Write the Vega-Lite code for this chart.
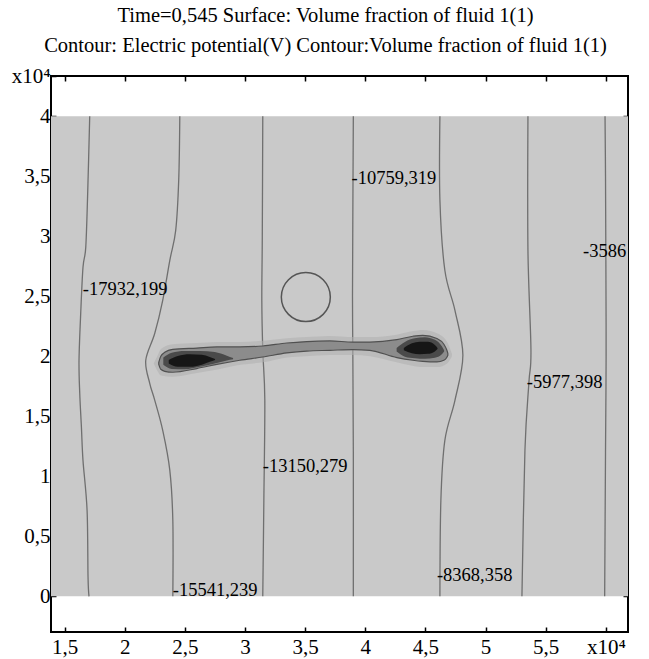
{
  "$schema": "https://vega.github.io/schema/vega-lite/v6.json",
  "width": 577,
  "height": 556,
  "autosize": {"type": "none"},
  "padding": {"left": 51, "top": 76, "right": 21, "bottom": 27},
  "background": "white",
  "title": {
    "text": ["Time=0,545 Surface: Volume fraction of fluid 1(1)", "Contour: Electric potential(V) Contour:Volume fraction of fluid 1(1)"],
    "font": "Liberation Serif", "fontSize": 20.5, "fontWeight": "normal", "color": "black",
    "lineHeight": 30, "anchor": "middle", "frame": "group", "dx": -14, "offset": 9
  },
  "config": {
    "view": {"stroke": "black", "strokeWidth": 2},
    "axis": {
      "domain": false, "grid": false, "tickColor": "black", "tickWidth": 1.5, "tickSize": -5,
      "labelFont": "Liberation Serif", "labelFontSize": 21, "labelColor": "black", "labelOverlap": false,
      "labelFlush": false, "title": null
    }
  },
  "datasets": {
    "bg": [{"x": 1.386, "x2": 6.184, "y": 0, "y2": 4}],
    "contours": [
      {"c": "A", "x": 1.708, "y": 4.0}, {"c": "A", "x": 1.691, "y": 3.358}, {"c": "A", "x": 1.675, "y": 2.908}, {"c": "A", "x": 1.652, "y": 2.742}, {"c": "A", "x": 1.633, "y": 2.358}, {"c": "A", "x": 1.619, "y": 1.967}, {"c": "A", "x": 1.625, "y": 1.692}, {"c": "A", "x": 1.639, "y": 1.408}, {"c": "A", "x": 1.652, "y": 1.133}, {"c": "A", "x": 1.686, "y": 0.717}, {"c": "A", "x": 1.694, "y": 0.158}, {"c": "A", "x": 1.702, "y": 0},
      {"c": "B", "x": 2.457, "y": 4.0}, {"c": "B", "x": 2.448, "y": 3.467}, {"c": "B", "x": 2.423, "y": 3.05}, {"c": "B", "x": 2.374, "y": 2.8}, {"c": "B", "x": 2.315, "y": 2.467}, {"c": "B", "x": 2.249, "y": 2.192}, {"c": "B", "x": 2.174, "y": 1.967}, {"c": "B", "x": 2.207, "y": 1.775}, {"c": "B", "x": 2.249, "y": 1.633}, {"c": "B", "x": 2.315, "y": 1.383}, {"c": "B", "x": 2.374, "y": 1.05}, {"c": "B", "x": 2.399, "y": 0.633}, {"c": "B", "x": 2.399, "y": 0},
      {"c": "C", "x": 3.147, "y": 4.0}, {"c": "C", "x": 3.143, "y": 3.0}, {"c": "C", "x": 3.139, "y": 2.467}, {"c": "C", "x": 3.147, "y": 2.05}, {"c": "C", "x": 3.164, "y": 1.633}, {"c": "C", "x": 3.156, "y": 0.8}, {"c": "C", "x": 3.147, "y": 0},
      {"c": "D", "x": 3.9, "y": 4.0}, {"c": "D", "x": 3.896, "y": 3.2}, {"c": "D", "x": 3.893, "y": 2.5}, {"c": "D", "x": 3.896, "y": 2.0}, {"c": "D", "x": 3.9, "y": 1.2}, {"c": "D", "x": 3.9, "y": 0},
      {"c": "E", "x": 4.62, "y": 4.0}, {"c": "E", "x": 4.62, "y": 3.3}, {"c": "E", "x": 4.661, "y": 2.717}, {"c": "E", "x": 4.745, "y": 2.383}, {"c": "E", "x": 4.811, "y": 2.008}, {"c": "E", "x": 4.745, "y": 1.633}, {"c": "E", "x": 4.661, "y": 1.3}, {"c": "E", "x": 4.628, "y": 0.8}, {"c": "E", "x": 4.62, "y": 0},
      {"c": "F", "x": 5.352, "y": 4.0}, {"c": "F", "x": 5.352, "y": 2.883}, {"c": "F", "x": 5.377, "y": 2.05}, {"c": "F", "x": 5.36, "y": 1.783}, {"c": "F", "x": 5.327, "y": 1.217}, {"c": "F", "x": 5.302, "y": 0},
      {"c": "G", "x": 5.993, "y": 4.0}, {"c": "G", "x": 5.997, "y": 3.5}, {"c": "G", "x": 6.0, "y": 2.8}, {"c": "G", "x": 6.002, "y": 2.0}, {"c": "G", "x": 5.997, "y": 1.2}, {"c": "G", "x": 5.99, "y": 0}
    ],
    "labels": [
      {"x": 1.65, "y": 2.558, "t": "-17932,199"},
      {"x": 2.399, "y": 0.05, "t": "-15541,239"},
      {"x": 3.147, "y": 1.083, "t": "-13150,279"},
      {"x": 3.885, "y": 3.483, "t": "-10759,319"},
      {"x": 4.595, "y": 0.175, "t": "-8368,358"},
      {"x": 5.343, "y": 1.783, "t": "-5977,398"},
      {"x": 5.81, "y": 2.88, "t": "-3586"}
    ],
    "circle": [{"x": 3.505, "y": 2.494}],
    "halo": [
      {"x": 2.24, "y": 1.94, "y2": 1.94}, {"x": 2.27, "y": 2.0, "y2": 1.88}, {"x": 2.3, "y": 2.06, "y2": 1.84}, {"x": 2.4, "y": 2.1, "y2": 1.83}, {"x": 2.6, "y": 2.11, "y2": 1.86}, {"x": 2.77, "y": 2.12, "y2": 1.89}, {"x": 2.96, "y": 2.12, "y2": 1.93}, {"x": 3.15, "y": 2.13, "y2": 1.95}, {"x": 3.35, "y": 2.15, "y2": 1.99}, {"x": 3.51, "y": 2.16, "y2": 2.0}, {"x": 3.7, "y": 2.17, "y2": 2.01}, {"x": 3.9, "y": 2.16, "y2": 2.01}, {"x": 4.04, "y": 2.16, "y2": 2.0}, {"x": 4.26, "y": 2.18, "y2": 1.95}, {"x": 4.4, "y": 2.21, "y2": 1.92}, {"x": 4.48, "y": 2.22, "y2": 1.91}, {"x": 4.6, "y": 2.19, "y2": 1.91}, {"x": 4.68, "y": 2.12, "y2": 1.94}, {"x": 4.72, "y": 2.02, "y2": 2.0}
    ],
    "body": [
      {"x": 2.282, "y": 1.95, "y2": 1.933}, {"x": 2.299, "y": 2.0, "y2": 1.892}, {"x": 2.332, "y": 2.033, "y2": 1.875}, {"x": 2.398, "y": 2.058, "y2": 1.867}, {"x": 2.598, "y": 2.069, "y2": 1.898}, {"x": 2.765, "y": 2.078, "y2": 1.933}, {"x": 2.956, "y": 2.078, "y2": 1.967}, {"x": 3.147, "y": 2.086, "y2": 1.994}, {"x": 3.347, "y": 2.111, "y2": 2.028}, {"x": 3.513, "y": 2.123, "y2": 2.044}, {"x": 3.705, "y": 2.128, "y2": 2.05}, {"x": 3.896, "y": 2.119, "y2": 2.056}, {"x": 4.037, "y": 2.119, "y2": 2.05}, {"x": 4.262, "y": 2.139, "y2": 1.989}, {"x": 4.395, "y": 2.167, "y2": 1.967}, {"x": 4.478, "y": 2.175, "y2": 1.958}, {"x": 4.595, "y": 2.148, "y2": 1.953}, {"x": 4.653, "y": 2.1, "y2": 1.967}, {"x": 4.678, "y": 2.05, "y2": 1.992}, {"x": 4.686, "y": 2.025, "y2": 2.008}
    ],
    "darkL": [
      {"x": 2.32, "y": 1.99, "y2": 1.93}, {"x": 2.39, "y": 2.03, "y2": 1.895}, {"x": 2.498, "y": 2.045, "y2": 1.893}, {"x": 2.623, "y": 2.045, "y2": 1.913}, {"x": 2.748, "y": 2.035, "y2": 1.94}, {"x": 2.848, "y": 2.005, "y2": 1.965}, {"x": 2.9, "y": 1.985, "y2": 1.975}
    ],
    "coreL": [
      {"x": 2.365, "y": 1.97, "y2": 1.94}, {"x": 2.44, "y": 2.003, "y2": 1.912}, {"x": 2.54, "y": 2.017, "y2": 1.912}, {"x": 2.64, "y": 2.012, "y2": 1.93}, {"x": 2.706, "y": 1.995, "y2": 1.955}, {"x": 2.75, "y": 1.978, "y2": 1.97}
    ],
    "darkR": [
      {"x": 4.26, "y": 2.07, "y2": 2.04}, {"x": 4.329, "y": 2.12, "y2": 1.997}, {"x": 4.412, "y": 2.15, "y2": 1.984}, {"x": 4.495, "y": 2.158, "y2": 1.979}, {"x": 4.578, "y": 2.137, "y2": 1.988}, {"x": 4.636, "y": 2.083, "y2": 2.017}, {"x": 4.655, "y": 2.05, "y2": 2.04}
    ],
    "coreR": [
      {"x": 4.32, "y": 2.07, "y2": 2.05}, {"x": 4.387, "y": 2.108, "y2": 2.025}, {"x": 4.453, "y": 2.121, "y2": 2.017}, {"x": 4.52, "y": 2.121, "y2": 2.021}, {"x": 4.578, "y": 2.094, "y2": 2.041}, {"x": 4.6, "y": 2.07, "y2": 2.06}
    ]
  },
  "resolve": {"axis": {"x": "independent", "y": "independent"}},
  "layer": [
    {
      "data": {"name": "bg"},
      "mark": {"type": "rect", "fill": "#c9c9c9"},
      "encoding": {
        "x": {"field": "x", "type": "quantitative", "scale": {"domain": [1.386, 6.184], "nice": false, "zero": false},
              "axis": {"orient": "bottom", "values": [1.5, 2, 2.5, 3, 3.5, 4, 4.5, 5, 5.5, 6], "labelPadding": 9,
                       "labelExpr": "datum.value == 6 ? 'x10⁴' : replace(format(datum.value, '~g'), '.', ',')"}},
        "x2": {"field": "x2"},
        "y": {"field": "y", "type": "quantitative", "scale": {"domain": [-0.2975, 4.336], "nice": false, "zero": false},
              "axis": {"orient": "left", "values": [0, 0.5, 1, 1.5, 2, 2.5, 3, 3.5, 4, 4.336], "labelPadding": 6,
                       "labelExpr": "datum.value > 4.1 ? 'x10⁴' : replace(format(datum.value, '~g'), '.', ',')"}},
        "y2": {"field": "y2"}
      }
    },
    {
      "data": {"name": "contours"},
      "mark": {"type": "line", "stroke": "#6f6f6f", "strokeWidth": 1.3, "interpolate": "cardinal", "clip": true},
      "encoding": {
        "x": {"field": "x", "type": "quantitative", "scale": {"domain": [1.386, 6.184], "nice": false, "zero": false}, "axis": null},
        "y": {"field": "y", "type": "quantitative", "scale": {"domain": [-0.2975, 4.336], "nice": false, "zero": false}, "axis": null},
        "detail": {"field": "c"},
        "order": {"field": "y", "type": "quantitative"}
      }
    },
    {
      "data": {"name": "halo"},
      "mark": {"type": "area", "fill": "#afafaf", "opacity": 0.55, "interpolate": "monotone"},
      "encoding": {
        "x": {"field": "x", "type": "quantitative", "scale": {"domain": [1.386, 6.184], "nice": false, "zero": false}, "axis": null},
        "y": {"field": "y", "type": "quantitative", "scale": {"domain": [-0.2975, 4.336], "nice": false, "zero": false}, "axis": null},
        "y2": {"field": "y2"}
      }
    },
    {
      "data": {"name": "body"},
      "mark": {"type": "area", "fill": "#8c8c8c", "stroke": "#505050", "strokeWidth": 1.2, "interpolate": "monotone"},
      "encoding": {
        "x": {"field": "x", "type": "quantitative", "scale": {"domain": [1.386, 6.184], "nice": false, "zero": false}, "axis": null},
        "y": {"field": "y", "type": "quantitative", "scale": {"domain": [-0.2975, 4.336], "nice": false, "zero": false}, "axis": null},
        "y2": {"field": "y2"}
      }
    },
    {
      "data": {"name": "darkL"},
      "mark": {"type": "area", "fill": "#4a4a4a", "interpolate": "monotone"},
      "encoding": {
        "x": {"field": "x", "type": "quantitative", "scale": {"domain": [1.386, 6.184], "nice": false, "zero": false}, "axis": null},
        "y": {"field": "y", "type": "quantitative", "scale": {"domain": [-0.2975, 4.336], "nice": false, "zero": false}, "axis": null},
        "y2": {"field": "y2"}
      }
    },
    {
      "data": {"name": "darkR"},
      "mark": {"type": "area", "fill": "#4a4a4a", "interpolate": "monotone"},
      "encoding": {
        "x": {"field": "x", "type": "quantitative", "scale": {"domain": [1.386, 6.184], "nice": false, "zero": false}, "axis": null},
        "y": {"field": "y", "type": "quantitative", "scale": {"domain": [-0.2975, 4.336], "nice": false, "zero": false}, "axis": null},
        "y2": {"field": "y2"}
      }
    },
    {
      "data": {"name": "coreL"},
      "mark": {"type": "area", "fill": "#161616", "interpolate": "monotone"},
      "encoding": {
        "x": {"field": "x", "type": "quantitative", "scale": {"domain": [1.386, 6.184], "nice": false, "zero": false}, "axis": null},
        "y": {"field": "y", "type": "quantitative", "scale": {"domain": [-0.2975, 4.336], "nice": false, "zero": false}, "axis": null},
        "y2": {"field": "y2"}
      }
    },
    {
      "data": {"name": "coreR"},
      "mark": {"type": "area", "fill": "#161616", "interpolate": "monotone"},
      "encoding": {
        "x": {"field": "x", "type": "quantitative", "scale": {"domain": [1.386, 6.184], "nice": false, "zero": false}, "axis": null},
        "y": {"field": "y", "type": "quantitative", "scale": {"domain": [-0.2975, 4.336], "nice": false, "zero": false}, "axis": null},
        "y2": {"field": "y2"}
      }
    },
    {
      "data": {"name": "circle"},
      "mark": {"type": "point", "shape": "circle", "filled": false, "size": 2401, "stroke": "#555555", "strokeWidth": 1.5, "opacity": 1},
      "encoding": {
        "x": {"field": "x", "type": "quantitative", "scale": {"domain": [1.386, 6.184], "nice": false, "zero": false},
              "axis": {"orient": "top", "values": [1.5, 2, 2.5, 3, 3.5, 4, 4.5, 5, 5.5, 6], "labels": false}},
        "y": {"field": "y", "type": "quantitative", "scale": {"domain": [-0.2975, 4.336], "nice": false, "zero": false},
              "axis": {"orient": "right", "values": [0, 0.5, 1, 1.5, 2, 2.5, 3, 3.5, 4], "labels": false}}
      }
    },
    {
      "data": {"name": "labels"},
      "mark": {"type": "text", "align": "left", "baseline": "middle", "font": "Liberation Serif", "fontSize": 18.5, "color": "black"},
      "encoding": {
        "x": {"field": "x", "type": "quantitative", "scale": {"domain": [1.386, 6.184], "nice": false, "zero": false}, "axis": null},
        "y": {"field": "y", "type": "quantitative", "scale": {"domain": [-0.2975, 4.336], "nice": false, "zero": false}, "axis": null},
        "text": {"field": "t"}
      }
    }
  ]
}
